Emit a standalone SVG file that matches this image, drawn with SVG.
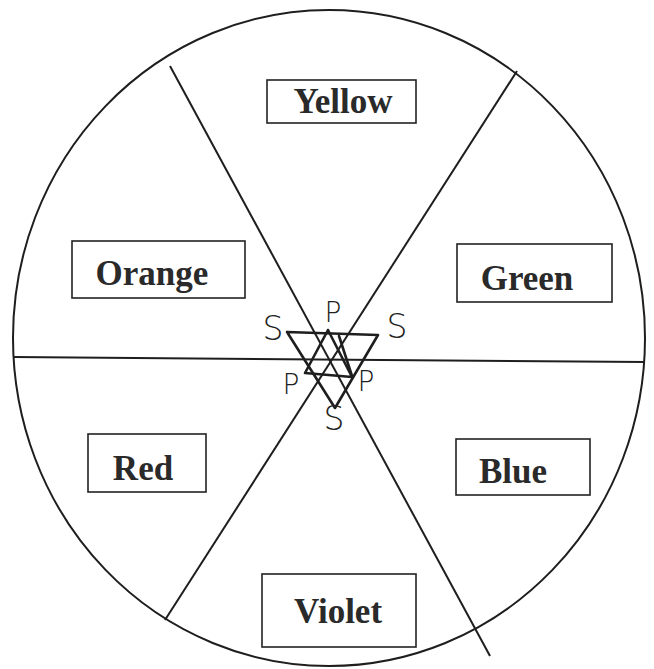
<svg xmlns="http://www.w3.org/2000/svg" width="654" height="669" viewBox="0 0 654 669">
<style>
.box{fill:#fff;stroke:#222;stroke-width:1.6}
.lbl{font-family:"Liberation Serif","Times New Roman",serif;font-weight:bold;font-size:35px;fill:#2a2a2a;text-anchor:middle}
.ln{stroke:#1e1e1e;stroke-width:2;fill:none}
.hand{stroke:#1e1e1e;stroke-width:2.6;fill:none;stroke-linejoin:round;stroke-linecap:round}
.hl{font-family:"DejaVu Sans","Liberation Sans",sans-serif;font-weight:300;font-size:28px;fill:#222;text-anchor:middle}
.hs{font-size:33px}
</style>
<rect width="654" height="669" fill="#fff"/>
<g id="wheel">
<ellipse cx="329" cy="338" rx="316" ry="328" class="ln"/>
</g>
<g id="connectors">
<line x1="13" y1="357" x2="645" y2="362" class="ln"/>
<line x1="170" y1="66" x2="490" y2="656" class="ln"/>
<line x1="517" y1="71" x2="165" y2="620" class="ln"/>
</g>
<g id="yellow"><rect x="267" y="80" width="149" height="43" class="box"/><text x="343" y="113" class="lbl">Yellow</text></g>
<g id="orange"><rect x="72" y="241" width="173" height="57" class="box"/><text x="152" y="285" class="lbl">Orange</text></g>
<g id="green"><rect x="457" y="244" width="155" height="58" class="box"/><text x="527" y="290" class="lbl">Green</text></g>
<g id="red"><rect x="88" y="434" width="118" height="58" class="box"/><text x="143" y="480" class="lbl">Red</text></g>
<g id="blue"><rect x="456" y="439" width="134" height="56" class="box"/><text x="513" y="483" class="lbl">Blue</text></g>
<g id="violet"><rect x="262" y="574" width="154" height="73" class="box"/><text x="338" y="623" class="lbl">Violet</text></g>
<g id="star">
<polyline points="287,332 378,335 335,408 287,332" class="hand"/>
<polyline points="328,330 305,373 352,377 328,330" class="hand"/>
<line x1="339" y1="336" x2="352" y2="376" class="hand"/>
<text x="273" y="340" class="hl hs">S</text>
<text x="333" y="322" class="hl">P</text>
<text x="397" y="338" class="hl hs">S</text>
<text x="291" y="394" class="hl">P</text>
<text x="366" y="391" class="hl">P</text>
<text x="334" y="430" class="hl hs">S</text>
</g>
</svg>
